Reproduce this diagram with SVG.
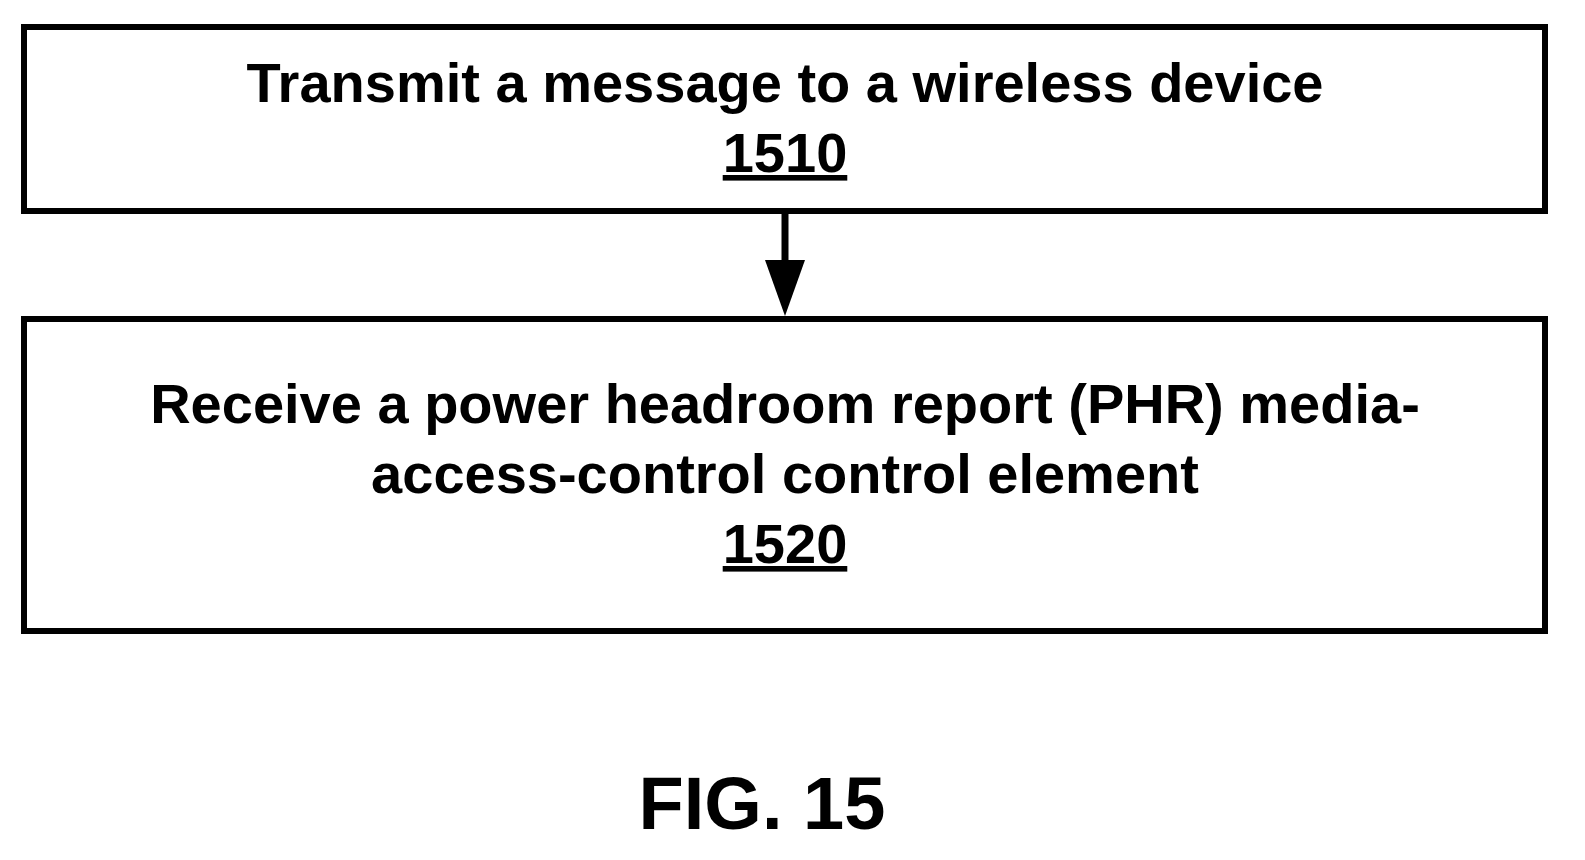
<svg xmlns="http://www.w3.org/2000/svg" width="1585" height="860" viewBox="0 0 1585 860">
<style>
.box{fill:#fff;stroke:#000;stroke-width:6}
.t{font-family:"Liberation Sans",Arial,sans-serif;font-weight:bold;font-size:56px;text-anchor:middle;fill:#000}
.u{text-decoration:underline}
</style>
<rect width="1585" height="860" fill="#fff"/>
<g id="n1510"><rect class="box" x="24" y="27" width="1521" height="184"/>
<text class="t" x="785" y="102">Transmit a message to a wireless device</text>
<text class="t u" x="785" y="172">1510</text></g>
<g id="n1520"><rect class="box" x="24" y="319" width="1521" height="312"/>
<text class="t" x="785" y="423">Receive a power headroom report (PHR) media-</text>
<text class="t" x="785" y="493">access-control control element</text>
<text class="t u" x="785" y="563">1520</text></g>
<g id="connectors"><line x1="785" y1="214" x2="785" y2="262" stroke="#000" stroke-width="7"/>
<path d="M765,260 L805,260 L785,316Z" fill="#000"/></g>
<text class="t" x="762" y="829" style="font-size:74px">FIG. 15</text>
</svg>
